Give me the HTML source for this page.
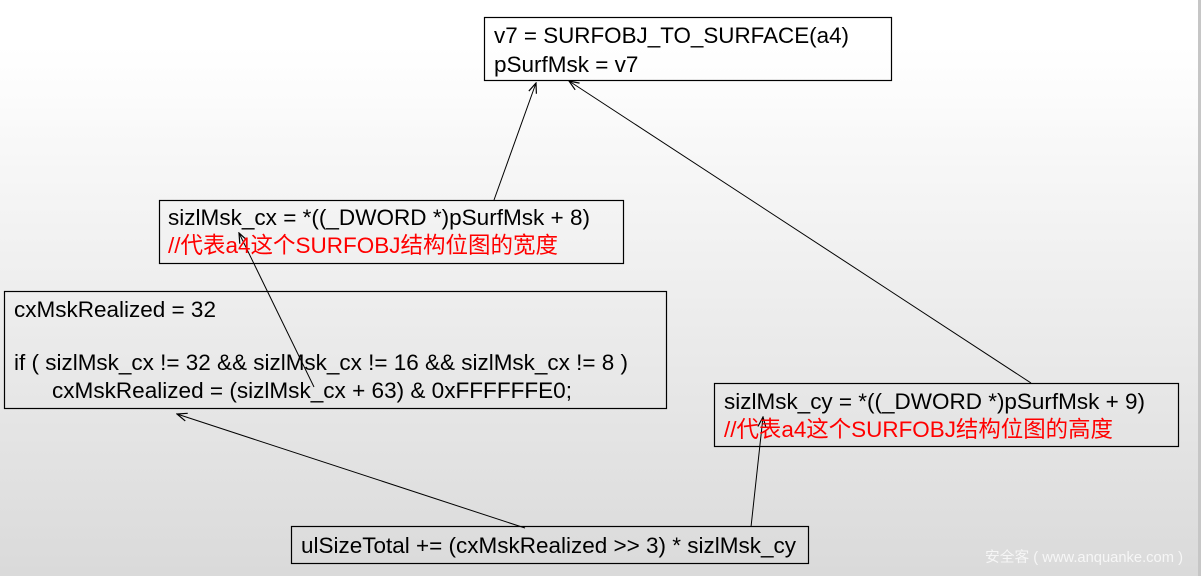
<!DOCTYPE html>
<html>
<head>
<meta charset="utf-8">
<style>
  html, body { margin: 0; padding: 0; }
  body {
    width: 1201px; height: 576px; overflow: hidden;
    background: linear-gradient(to bottom, #ffffff 0%, #ffffff 8%, #dadada 100%);
    position: relative;
  }
  svg { position: absolute; left: 0; top: 0; }
  .t { font-family: "Liberation Sans", Arial, sans-serif; font-size: 22.5px; fill: #000; }
  .r { font-family: "Liberation Sans", "Noto Sans CJK SC", sans-serif; font-size: 22.5px; fill: #ff0000; }
  .w { font-family: "Liberation Sans", "Noto Sans CJK SC", sans-serif; font-size: 14.5px; fill: #f6f6f6; }
</style>
</head>
<body>
<svg width="1201" height="576" viewBox="0 0 1201 576" xmlns="http://www.w3.org/2000/svg">
  <defs>
    <marker id="ah" markerWidth="12" markerHeight="10" refX="11" refY="5" orient="auto" markerUnits="userSpaceOnUse">
      <path d="M1,1 L11,5 L1,9" fill="none" stroke="#000" stroke-width="1.2"/>
    </marker>
  </defs>

  <!-- right edge bar -->
  <rect x="1198" y="0" width="3" height="576" fill="#c6c6c6"/>

  <!-- boxes -->
  <rect x="484.5" y="17.5" width="407" height="63" fill="none" stroke="#000" stroke-width="1.2"/>
  <rect x="159.5" y="200.5" width="464" height="63" fill="none" stroke="#000" stroke-width="1.2"/>
  <rect x="4.5" y="291.5" width="662" height="117" fill="none" stroke="#000" stroke-width="1.2"/>
  <rect x="714.5" y="383.5" width="464" height="63" fill="none" stroke="#000" stroke-width="1.2"/>
  <rect x="291.5" y="526.5" width="517" height="37" fill="none" stroke="#000" stroke-width="1.2"/>

  <!-- connectors -->
  <line x1="494" y1="200" x2="536" y2="83" stroke="#000" stroke-width="1" marker-end="url(#ah)"/>
  <line x1="1031" y1="383" x2="569" y2="81" stroke="#000" stroke-width="1" marker-end="url(#ah)"/>
  <line x1="314" y1="387" x2="239" y2="233" stroke="#000" stroke-width="1" marker-end="url(#ah)"/>
  <line x1="525" y1="528" x2="177" y2="414" stroke="#000" stroke-width="1" marker-end="url(#ah)"/>
  <line x1="751" y1="527" x2="763" y2="417" stroke="#000" stroke-width="1" marker-end="url(#ah)"/>

  <!-- box 1 -->
  <text class="t" x="494" y="43" textLength="355" lengthAdjust="spacingAndGlyphs">v7 = SURFOBJ_TO_SURFACE(a4)</text>
  <text class="t" x="494" y="72">pSurfMsk = v7</text>

  <!-- box 2 -->
  <text class="t" x="168" y="225" textLength="422" lengthAdjust="spacingAndGlyphs">sizlMsk_cx = *((_DWORD *)pSurfMsk + 8)</text>
  <text class="r" x="168" y="253" textLength="390" lengthAdjust="spacingAndGlyphs">//代表a4这个SURFOBJ结构位图的宽度</text>

  <!-- box 3 -->
  <text class="t" x="14" y="317">cxMskRealized = 32</text>
  <text class="t" x="14" y="370" textLength="614" lengthAdjust="spacingAndGlyphs">if ( sizlMsk_cx != 32 &amp;&amp; sizlMsk_cx != 16 &amp;&amp; sizlMsk_cx != 8 )</text>
  <text class="t" x="52" y="398" textLength="520" lengthAdjust="spacingAndGlyphs">cxMskRealized = (sizlMsk_cx + 63) &amp; 0xFFFFFFE0;</text>

  <!-- box 4 -->
  <text class="t" x="724" y="409" textLength="421" lengthAdjust="spacingAndGlyphs">sizlMsk_cy = *((_DWORD *)pSurfMsk + 9)</text>
  <text class="r" x="724" y="437" textLength="389" lengthAdjust="spacingAndGlyphs">//代表a4这个SURFOBJ结构位图的高度</text>

  <!-- box 5 -->
  <text class="t" x="301" y="553" textLength="495" lengthAdjust="spacingAndGlyphs">ulSizeTotal += (cxMskRealized &gt;&gt; 3) * sizlMsk_cy</text>

  <!-- watermark -->
  <text class="w" x="985" y="562" textLength="198" lengthAdjust="spacingAndGlyphs">安全客 ( www.anquanke.com )</text>
</svg>
</body>
</html>
